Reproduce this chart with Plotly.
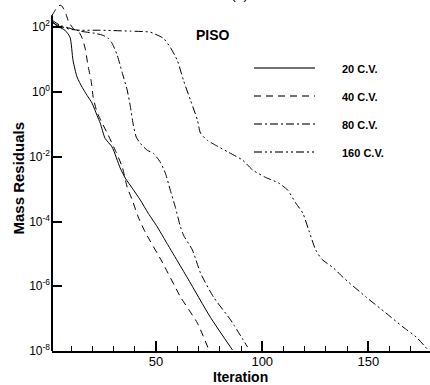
import plotly.graph_objects as go

# ---- data ----
iter_20 = [1, 2.9, 7.1, 9.5, 10.9, 12.8, 15.2, 17.5, 19.9, 22.2, 23.7, 26.0, 29.3, 33.1, 35.5,
           38.8, 42.6, 46.3, 50.6, 53.4, 64.8, 75.6, 86.0]
res_20 = [155, 115, 81, 49, 9.5, 2.9, 1.4, 0.79, 0.45, 0.19, 0.11, 0.037, 0.020, 4.5e-3, 2.2e-3,
          1.07e-3, 4.6e-4, 1.8e-4, 6.8e-5, 3.3e-5, 1.8e-6, 1.1e-7, 1.07e-8]

iter_40 = [1, 1.9, 3.8, 5.2, 6.6, 7.6, 9.0, 11.4, 13.7, 15.2, 16.6, 18.0, 19.4, 20.4, 22.2,
           24.6, 27.0, 30.8, 34.1, 36.4, 38.8, 41.6, 44.9, 52.9, 61.5, 69.5, 74.7]
res_40 = [234, 288, 447, 479, 363, 251, 141, 87, 71, 46, 22.4, 6.3, 2.3, 0.69, 0.24,
          0.11, 0.054, 0.0158, 4.8e-3, 1.15e-3, 4.6e-4, 1.38e-4, 4.7e-5, 5.6e-6, 4.7e-7, 7.2e-8, 1.15e-8]

iter_80 = [1, 4.8, 9.5, 14.2, 21.3, 25.1, 27.4, 29.3, 31.7, 34.0, 36.4, 37.8, 39.3, 40.7, 42.6,
           45.9, 48.7, 52.0, 54.4, 56.7, 59.1, 61.5, 62.9, 67.1, 70.9, 77.0, 85.1, 93.1]
res_80 = [166, 115, 93, 76, 65, 56, 46, 32, 13.8, 4.1, 1.15, 0.39, 0.095, 0.040, 0.026,
          0.0158, 0.0129, 6.8e-3, 3.1e-3, 9.3e-4, 2.75e-4, 6.8e-5, 3.8e-5, 1.32e-5, 2.6e-6, 4.7e-7, 9.1e-8, 1.32e-8]

iter_160 = [1, 4.8, 9.5, 14.2, 23.7, 37.8, 47.3, 48.7, 53.4, 56.7, 60.0, 62.9, 66.2, 69.5, 70.9,
            74.2, 77.9, 84.1, 90.7, 95.5, 101.6, 107.7, 112.0, 115.8, 119.1, 121.9, 125.2, 128.0,
            133.7, 138.0, 148.8, 158.3, 166.3, 172.5, 178.1]
res_160 = [141, 107, 87, 81, 81, 76, 71, 65, 46, 24, 9.5, 2.3, 0.56, 0.135, 0.054,
           0.032, 0.023, 0.0138, 7.9e-3, 3.9e-3, 2.3e-3, 1.55e-3, 9.3e-4, 3.7e-4, 1.82e-4, 5.4e-5, 1.32e-5, 6.9e-6,
           3.6e-6, 1.9e-6, 4.7e-7, 1.48e-7, 5.5e-8, 2.7e-8, 1.07e-8]

series_names = ["20 C.V.", "40 C.V.", "80 C.V.", "160 C.V."]
y_tick_vals = [1e-8, 1e-6, 1e-4, 1e-2, 1, 1e2]
y_tick_text = ["10<sup>-8</sup>", "10<sup>-6</sup>", "10<sup>-4</sup>", "10<sup>-2</sup>",
               "10<sup>0</sup>", "10<sup>2</sup>"]
x_tick_vals = [50, 100, 150]
x_tick_text = ["50", "100", "150"]

# ---- layout geometry ----
W, H = 430, 385
ML, MR, MT, MB = 52, 0, 3, 34
PW, PH = W - ML - MR, H - MT - MB


def px(xp):
    return (xp - ML) / PW


def py(yp):
    return (H - MB - yp) / PH


FONT = "Arial, Liberation Sans, sans-serif"
dashes = ["solid", "7px,5px", "8px,3px,2px,3px", "8px,3px,2px,3px,2px,3px"]
xs = [iter_20, iter_40, iter_80, iter_160]
ys = [res_20, res_40, res_80, res_160]

fig = go.Figure()
for name, x, y, d in zip(series_names, xs, ys, dashes):
    fig.add_trace(go.Scatter(x=x, y=y, mode="lines", name=name,
                             line=dict(color="black", width=1, dash=d, shape="spline", smoothing=0.6)))

YMIN, YMAX = -8, 2.75
fig.update_layout(
    width=W, height=H,
    margin=dict(l=ML, r=MR, t=MT, b=MB, pad=0),
    paper_bgcolor="white", plot_bgcolor="white",
    showlegend=False,
    font=dict(family=FONT, color="black"),
    xaxis=dict(range=[1, 179], tickvals=x_tick_vals, ticktext=x_tick_text,
               ticks="inside", ticklen=10, tickwidth=2, tickcolor="black",
               showline=True, linewidth=2, linecolor="black",
               showgrid=False, zeroline=False,
               tickfont=dict(size=13, family=FONT), ticklabelstandoff=-3,
               minor=dict(dtick=10, tick0=0, ticks="inside", ticklen=5, tickwidth=1,
                          tickcolor="black", showgrid=False)),
    yaxis=dict(type="log", range=[YMIN, YMAX], tickvals=y_tick_vals, ticktext=y_tick_text,
               ticks="inside", ticklen=10, tickwidth=2, tickcolor="black",
               showline=False, showgrid=False, zeroline=False,
               tickfont=dict(size=12, family=FONT), ticklabelstandoff=1),
)

# y axis line (stops below the top of the plotting area as in reference)
fig.add_shape(type="line", xref="paper", yref="paper", x0=0, x1=0, y0=0,
              y1=(2.37 - YMIN) / (YMAX - YMIN), line=dict(color="black", width=2))

# legend drawn manually
leg_y = [68, 96, 124, 152]
for name, d, yy in zip(series_names, dashes, leg_y):
    fig.add_shape(type="line", xref="paper", yref="paper", x0=px(254), x1=px(315),
                  y0=py(yy), y1=py(yy), line=dict(color="#444444", width=1.5, dash=d))
    fig.add_annotation(text="<b>%s</b>" % name, xref="paper", yref="paper",
                       x=px(340), y=py(yy + 1), xanchor="left", yanchor="middle",
                       showarrow=False, font=dict(size=11, family=FONT, color="black"))

fig.add_annotation(text="<b>PISO</b>", xref="paper", yref="paper", x=px(213), y=py(35),
                   xanchor="center", yanchor="middle", showarrow=False,
                   font=dict(size=14, family=FONT))
fig.add_annotation(text="<b>Mass Residuals</b>", xref="paper", yref="paper", x=px(17.5), y=py(178),
                   xanchor="center", yanchor="middle", textangle=-90, showarrow=False,
                   font=dict(size=15, family=FONT))
fig.add_annotation(text="<b>Iteration</b>", xref="paper", yref="paper", x=px(240), y=py(377),
                   xanchor="center", yanchor="middle", showarrow=False,
                   font=dict(size=14, family=FONT))
fig.add_annotation(text="(a)", xref="paper", yref="paper", x=px(239), y=py(-6),
                   xanchor="center", yanchor="middle", showarrow=False,
                   font=dict(size=14, family=FONT))

fig.write_html("out.html")
